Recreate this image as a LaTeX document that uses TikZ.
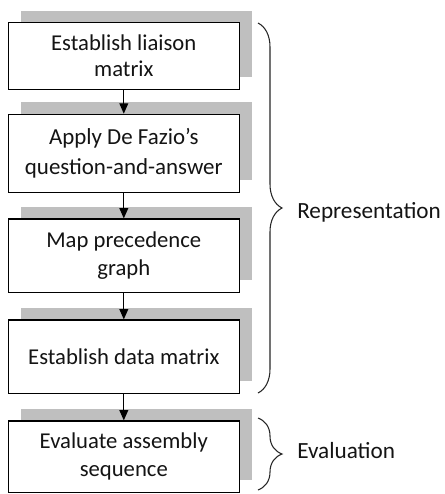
\documentclass[tikz,border=0pt]{standalone}
\usepackage{fontspec}
\setmainfont{Carlito}
\usetikzlibrary{arrows.meta,shadows,decorations.pathreplacing}
\definecolor{shadowgray}{RGB}{191,191,191}
\definecolor{txt}{RGB}{20,20,20}
\begin{document}
\begin{tikzpicture}[x=0.75pt,y=-0.75pt,
  stepbox/.style={draw=black, line width=0.9pt, fill=white, text=txt,
    minimum width=173.25pt, inner sep=0pt, align=center,
    general shadow={fill=shadowgray, shadow xshift=9.2pt, shadow yshift=9pt}},
  flow/.style={line width=0.9pt, -{Triangle[length=7.8pt,width=6.6pt]}},
  bracestyle/.style={draw=black!85, line width=0.8pt,
    decorate, decoration={brace, amplitude=18pt}},
  lbl/.style={anchor=base west, text=txt, font=\fontsize{17.4}{20}\selectfont, inner sep=0pt}
]
\useasboundingbox (0,0) rectangle (444,494);

\node[stepbox, minimum height=49.95pt, font=\fontsize{17}{19.5}\selectfont] (b1) at (123.8,56)
  {Establish liaison\\matrix};
\node[stepbox, minimum height=58.5pt, font=\fontsize{17.2}{23}\selectfont] (b2) at (123.8,153.3)
  {Apply De Fazio’s\\question-and-answer};
\node[stepbox, minimum height=55pt, font=\fontsize{17}{20.8}\selectfont] (b3) at (123.8,255.7)
  {Map precedence\\graph};
\node[stepbox, minimum height=55pt, font=\fontsize{17}{20.8}\selectfont] (b4) at (123.8,356.7)
  {Establish data matrix};
\node[stepbox, minimum height=53.5pt, font=\fontsize{17}{21.2}\selectfont] (b5) at (123.8,456.7)
  {Evaluate assembly\\sequence};

\draw[flow] (b1.south) -- (b2.north);
\draw[flow] (b2.south) -- (b3.north);
\draw[flow] (b3.south) -- (b4.north);
\draw[flow] (b4.south) -- (b5.north);

\coordinate (r1) at (258,23);
\coordinate (r2) at (258,393);
\coordinate (e1) at (258,418);
\coordinate (e2) at (258,490);
\draw[bracestyle] (r1) -- (r2);
\draw[bracestyle] (e1) -- (e2);

\node[lbl] (rep) at (297,218) {Representation};
\node[lbl] (ev) at (297,458) {Evaluation};
\end{tikzpicture}
\end{document}
